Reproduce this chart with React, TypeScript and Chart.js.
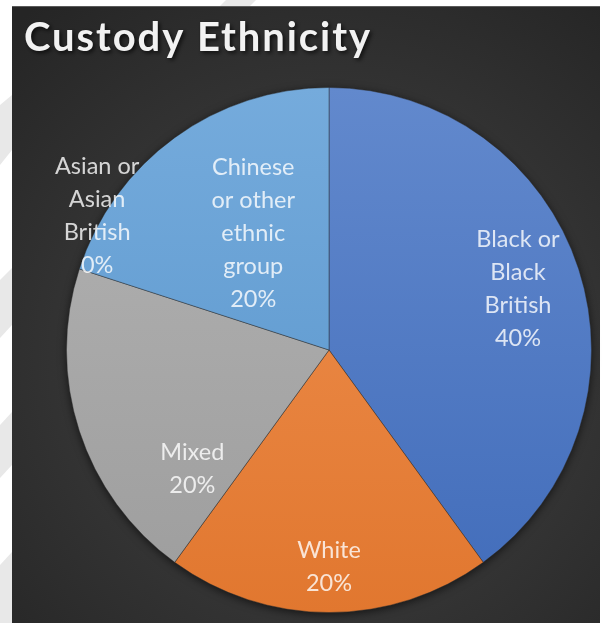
import React, { useEffect, useRef } from 'react';
import { Chart, registerables } from 'chart.js';

Chart.register(...registerables);

const TITLE = 'Custody Ethnicity';
const categories = [
  'Black or Black British',
  'White',
  'Mixed',
  'Asian or Asian British',
  'Chinese or other ethnic group',
];
const labelLines = [
  ['Black or', 'Black', 'British'],
  ['White'],
  ['Mixed'],
  ['Asian or', 'Asian', 'British'],
  ['Chinese', 'or other', 'ethnic', 'group'],
];
const values = [40, 20, 20, 0, 20];
const colors = ['#4472C4', '#ED7D31', '#A5A5A5', '#FFC000', '#5B9BD5'];

// label placement (style): fraction of radius and angle offset from slice middle (deg)
const labelRadius = [0.757, 0.825, 0.69, 1.02, 0.53];
const labelAngleOffset = [0, 0, -23, 12, 3];

function hexToRgb(h: string) {
  const n = parseInt(h.slice(1), 16);
  return [(n >> 16) & 255, (n >> 8) & 255, n & 255];
}
function mix(h: string, t: number[], f: number) {
  const c = hexToRgb(h);
  const r = c.map((v, i) => Math.round(v + (t[i] - v) * f));
  return `rgb(${r[0]},${r[1]},${r[2]})`;
}

const bgPlugin = {
  id: 'panelBg',
  beforeDraw(chart: any) {
    const { ctx, width, height } = chart;
    ctx.save();
    ctx.fillStyle = '#ffffff';
    ctx.fillRect(0, 0, width, height);
    // faint slide decoration in margins
    ctx.fillStyle = '#e8e8e8';
    const polys = [
      [[226, 0], [256, 0], [250, 6], [220, 6]],
      [[0, 105], [12, 95], [12, 150], [0, 165]],
      [[0, 280], [12, 268], [12, 325], [0, 338]],
      [[0, 425], [12, 412], [12, 465], [0, 478]],
      [[0, 565], [12, 552], [12, 623], [0, 623]],
    ];
    polys.forEach((p) => {
      ctx.beginPath();
      p.forEach(([x, y], i) => (i ? ctx.lineTo(x, y) : ctx.moveTo(x, y)));
      ctx.closePath();
      ctx.fill();
    });
    // dark panel
    const px = 12, py = 6, pw = 588, ph = height - 6;
    const g = ctx.createRadialGradient(329, 360, 0, 329, 360, 460);
    g.addColorStop(0, '#464646');
    g.addColorStop(1, '#252525');
    ctx.fillStyle = g;
    ctx.fillRect(px, py, pw, ph);
    ctx.fillStyle = '#5a5a5a';
    ctx.fillRect(px, py, pw, 1);
    // title
    ctx.font = 'bold 40px Lato';
    const target = 346;
    const w0 = ctx.measureText(TITLE).width;
    const ls = Math.max(0, (target - w0) / (TITLE.length - 1));
    (ctx as any).letterSpacing = ls.toFixed(2) + 'px';
    ctx.fillStyle = '#f2f2f2';
    ctx.textBaseline = 'alphabetic';
    ctx.textAlign = 'left';
    ctx.shadowColor = 'rgba(0,0,0,0.7)';
    ctx.shadowBlur = 4;
    ctx.shadowOffsetX = 2;
    ctx.shadowOffsetY = 2;
    ctx.fillText(TITLE, 24, 51);
    ctx.restore();
  },
  beforeDatasetsDraw(chart: any) {
    const meta = chart.getDatasetMeta(0);
    const arc = meta.data[0];
    if (!arc) return;
    const { ctx } = chart;
    ctx.save();
    ctx.shadowColor = 'rgba(0,0,0,0.6)';
    ctx.shadowBlur = 8;
    ctx.shadowOffsetY = 2;
    ctx.fillStyle = '#333';
    ctx.beginPath();
    ctx.arc(arc.x, arc.y, arc.outerRadius, 0, Math.PI * 2);
    ctx.fill();
    ctx.restore();
  },
};

const labelPlugin = {
  id: 'sliceLabels',
  afterDatasetsDraw(chart: any) {
    const { ctx } = chart;
    const meta = chart.getDatasetMeta(0);
    const total = values.reduce((a, b) => a + b, 0);
    ctx.save();
    ctx.font = '23.5px Lato';
    ctx.fillStyle = 'rgba(255,255,255,0.8)';
    ctx.textAlign = 'center';
    ctx.textBaseline = 'middle';
    const lineH = 33;
    meta.data.forEach((arc: any, i: number) => {
      const { x, y, startAngle, endAngle, outerRadius } = arc.getProps(
        ['x', 'y', 'startAngle', 'endAngle', 'outerRadius'],
        true
      );
      const a = (startAngle + endAngle) / 2 + (labelAngleOffset[i] * Math.PI) / 180;
      const r = outerRadius * labelRadius[i];
      const cx = x + Math.cos(a) * r;
      const cy = y + Math.sin(a) * r;
      const lines = [...labelLines[i], Math.round((values[i] / total) * 100) + '%'];
      const n = lines.length;
      lines.forEach((t, k) => ctx.fillText(t, cx, cy + (k - (n - 1) / 2) * lineH));
    });
    ctx.restore();
  },
};

export default function App() {
  const ref = useRef<HTMLCanvasElement | null>(null);
  useEffect(() => {
    document.body.style.margin = '0';
    const canvas = ref.current;
    if (!canvas) return;
    const chart = new Chart(canvas, {
      type: 'pie',
      data: {
        labels: categories,
        datasets: [
          {
            data: values,
            backgroundColor: (c: any) => {
              const col = colors[c.dataIndex];
              const area = c.chart.chartArea;
              if (!area) return col;
              const g = c.chart.ctx.createLinearGradient(0, area.top, 0, area.bottom);
              g.addColorStop(0, mix(col, [255, 255, 255], 0.16));
              g.addColorStop(1, mix(col, [0, 0, 0], 0.05));
              return g;
            },
            borderColor: 'rgba(40,40,40,0.45)',
            borderWidth: 1,
          },
        ],
      },
      options: {
        responsive: false,
        animation: false,
        layout: { padding: { left: 66, right: 13, top: 87, bottom: 10 } },
        plugins: {
          legend: { display: false },
          tooltip: { enabled: false },
          title: { display: false },
        },
      } as any,
      plugins: [bgPlugin, labelPlugin],
    });
    return () => chart.destroy();
  }, []);
  return (
    <div style={{ position: 'absolute', left: 0, top: 0, width: 605, height: 623 }}>
      <canvas ref={ref} width={605} height={623} style={{ display: 'block' }} />
    </div>
  );
}
